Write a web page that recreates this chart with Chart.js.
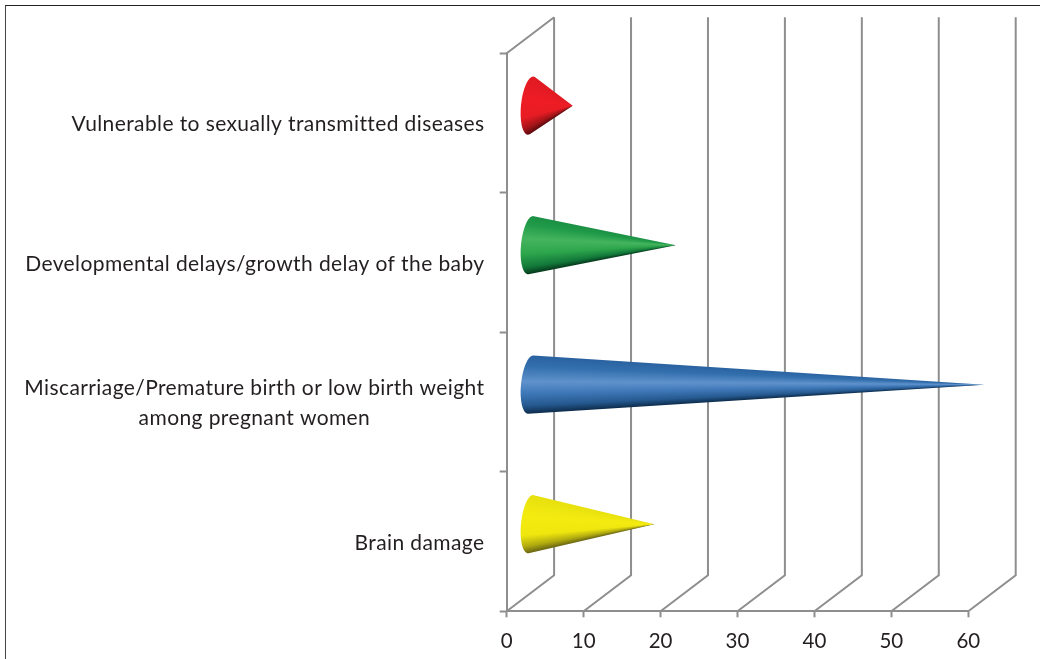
<!DOCTYPE html>
<html>
<head>
<meta charset="utf-8">
<script src="https://cdn.jsdelivr.net/npm/chart.js@4/dist/chart.umd.js"></script>
<style>
html,body{margin:0;padding:0;background:#fff;overflow:hidden}
#wrap{position:relative;width:1040px;height:659px}
#frame{position:absolute;left:5px;top:5px;right:0;bottom:0;border-top:1.5px solid #222;border-left:1.5px solid #444;pointer-events:none}
</style>
</head>
<body>
<div id="wrap"><canvas id="c" width="1040" height="659"></canvas><div id="frame"></div></div>
<script>
const categories = [
  "Vulnerable to sexually transmitted diseases",
  "Developmental delays/growth delay of the baby",
  ["Miscarriage/Premature birth or low birth weight", "among pregnant women"],
  "Brain damage"
];
const values = [5.5, 18.9, 59.0, 16.1];
const barColors = ["#ed1c24", "#2ba14b", "#3f78b8", "#f2ea0e"];
const shades = [
  [[0,"#5a0a0e"],[0.1,"#a01418"],[0.28,"#e81c24"],[0.6,"#ee1c25"],[1,"#e01a22"]],
  [[0,"#063a1c"],[0.12,"#12783a"],[0.35,"#2da64c"],[0.6,"#45b45e"],[0.85,"#1f9a48"],[1,"#1c9044"]],
  [[0,"#0d2c4c"],[0.14,"#25598f"],[0.35,"#3f78b8"],[0.55,"#5f92cc"],[0.8,"#3470ae"],[1,"#2a62a0"]],
  [[0,"#6a6612"],[0.12,"#b0aa10"],[0.3,"#efe60e"],[0.6,"#f4ec10"],[1,"#e8e00e"]]
];
const GRID = "#8e8e8e", TEXT = "#231f20";
const DX = 47.4, DY = 36;
const LABEL_RIGHT = 484.5, LINE_GAP = 30;

const wallsAndCones = {
  id: "wallsAndCones",
  beforeDatasetsDraw(chart) {
    const {ctx, scales: {x, y}, chartArea: a} = chart;
    ctx.save();
    ctx.strokeStyle = GRID; ctx.lineWidth = 2;
    ctx.beginPath();
    x.ticks.forEach(t => {
      const px = x.getPixelForValue(t.value);
      ctx.moveTo(px, a.bottom);
      ctx.lineTo(px + DX, a.bottom - DY);
      ctx.lineTo(px + DX, a.top - DY);
    });
    const p0 = x.getPixelForValue(0);
    ctx.moveTo(p0, a.top);
    ctx.lineTo(p0 + DX, a.top - DY);
    ctx.stroke();
    // category labels: lines centred on each other, block right-aligned
    ctx.fillStyle = TEXT;
    ctx.font = "21px Lato";
    ctx.letterSpacing = "0.4px";
    ctx.textBaseline = "middle";
    ctx.textAlign = "center";
    chart.data.labels.forEach((label, i) => {
      const lines = Array.isArray(label) ? label : [label];
      const w = Math.max(...lines.map(l => ctx.measureText(l).width));
      const yc = y.getPixelForValue(i) + 1.2;
      lines.forEach((l, k) => {
        ctx.fillText(l, LABEL_RIGHT - w / 2, yc + (k - (lines.length - 1) / 2) * LINE_GAP);
      });
    });
    ctx.restore();
  },
  beforeDatasetDraw(chart, args) {
    const ctx = chart.ctx;
    args.meta.data.forEach((el, i) => {
      const ax = el.x + DX / 2, ay = el.y - DY / 2 + 0.6;
      const cx = el.base + DX / 2 - 0.4, cy = ay;
      const ry = el.height / 2 + 0.6, rx = 9.5, rot = 0.1;
      const dx = ax - cx, dy = ay - cy;
      const lx = (dx * Math.cos(rot) + dy * Math.sin(rot)) / rx;
      const ly = (-dx * Math.sin(rot) + dy * Math.cos(rot)) / ry;
      const d = Math.hypot(lx, ly), phi = Math.atan2(ly, lx), w = Math.acos(1 / d);
      const th = phi - w, bh = phi + w;
      const pt = t => {
        const ex = rx * Math.cos(t), ey = ry * Math.sin(t);
        return [cx + ex * Math.cos(rot) - ey * Math.sin(rot), cy + ex * Math.sin(rot) + ey * Math.cos(rot)];
      };
      const T = pt(th), B = pt(bh);
      const aB = Math.atan2(B[1] - ay, B[0] - ax);
      let aT = Math.atan2(T[1] - ay, T[0] - ax);
      if (aT < aB) aT += 2 * Math.PI;
      const span = aT - aB, eps = span * 0.1;
      const g = ctx.createConicGradient(aB - eps, ax, ay);
      const tau = 2 * Math.PI;
      g.addColorStop(0, shades[i][0][1]);
      shades[i].forEach(([t, c]) => g.addColorStop((eps + t * span) / tau, c));
      g.addColorStop((2 * eps + span) / tau, shades[i][shades[i].length - 1][1]);
      g.addColorStop(1, shades[i][0][1]);
      ctx.save();
      ctx.fillStyle = g;
      ctx.beginPath();
      ctx.moveTo(ax, ay);
      ctx.lineTo(T[0], T[1]);
      ctx.ellipse(cx, cy, rx, ry, rot, th, bh, true);
      ctx.closePath();
      ctx.fill();
      ctx.restore();
    });
    return false;
  }
};

new Chart(document.getElementById("c"), {
  type: "bar",
  plugins: [wallsAndCones],
  data: {
    labels: categories,
    datasets: [{ data: values, backgroundColor: barColors, categoryPercentage: 1, barPercentage: 0.41 }]
  },
  options: {
    indexAxis: "y",
    responsive: false,
    animation: false,
    layout: { padding: { left: 0, right: 71.7, top: 53.3, bottom: 0 } },
    plugins: { legend: { display: false }, tooltip: { enabled: false }, title: { display: false } },
    scales: {
      x: {
        type: "linear", min: 0, max: 60,
        afterFit(s) { s.height = 47.7; },
        ticks: { stepSize: 10, color: TEXT, padding: 12, font: { family: "Lato", size: 20.5 }, maxRotation: 0 },
        grid: { drawOnChartArea: false, drawTicks: true, tickLength: 6, tickColor: GRID, tickWidth: 2 },
        border: { display: true, color: GRID, width: 2 }
      },
      y: {
        type: "category",
        afterFit(s) { s.width = 506.7; },
        ticks: { display: false },
        grid: { drawOnChartArea: false, drawTicks: true, tickLength: 7, tickColor: GRID, tickWidth: 2, offset: true },
        border: { display: true, color: GRID, width: 2 }
      }
    }
  }
});
</script>
</body>
</html>
